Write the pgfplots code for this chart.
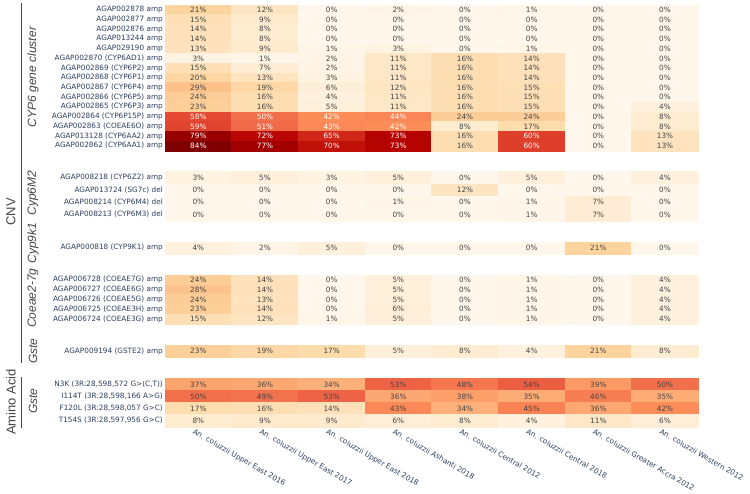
\documentclass[border=0pt]{standalone}
\usepackage{pgfplots}
\pgfplotsset{compat=1.18}
\usepackage{pgfplotstable}
\usepackage{fontspec}
\setmainfont{DejaVu Sans}
\newfontfamily\lib{Liberation Sans}
\definecolor{lab}{RGB}{42,63,95}
\definecolor{ctext}{RGB}{68,68,68}
\definecolor{grp}{RGB}{68,68,68}

\pgfdeclareplotmark{cellS}{\pgfpathrectangle{\pgfpoint{-33.6pt}{-4.95pt}}{\pgfpoint{67.2pt}{9.9pt}}\pgfusepathqfillstroke}
\pgfdeclareplotmark{cellT}{\pgfpathrectangle{\pgfpoint{-33.6pt}{-6.2pt}}{\pgfpoint{67.2pt}{12.4pt}}\pgfusepathqfillstroke}

% short rows (CYP6 cluster, Coeae2-7g)
\pgfplotstableread{
y c0 c1 c2 c3 c4 c5 c6 c7
9.86 21 12 0 2 0 1 0 0
19.57 15 9 0 0 0 0 0 0
29.28 14 8 0 0 0 0 0 0
38.99 14 8 0 0 0 0 0 0
48.70 13 9 1 3 0 1 0 0
58.41 3 1 2 11 16 14 0 0
68.12 15 7 2 11 16 14 0 0
77.83 20 13 3 11 16 14 0 0
87.54 29 19 6 12 16 15 0 0
97.25 24 16 4 11 16 15 0 0
106.96 23 16 5 11 16 15 0 4
116.67 58 50 42 44 24 24 0 8
126.38 59 51 43 42 8 17 0 8
136.09 79 72 65 73 16 60 0 13
145.80 84 77 70 73 16 60 0 13
279.9 24 14 0 5 0 1 0 4
289.7 28 14 0 5 0 1 0 4
299.5 24 13 0 5 0 1 0 4
309.3 23 14 0 6 0 1 0 4
319.1 15 12 1 5 0 1 0 4
}\cnvS

% tall rows (Cyp6M2, Cyp9k1, Gste)
\pgfplotstableread{
y c0 c1 c2 c3 c4 c5 c6 c7
177.8 3 5 3 5 0 5 0 4
190.1 0 0 0 0 12 0 0 0
202.3 0 0 0 1 0 1 7 0
214.6 0 0 0 0 0 1 7 0
247.85 4 2 5 0 0 0 21 0
351.2 23 19 17 5 8 4 21 8
}\cnvT

% amino acid rows
\pgfplotstableread{
y c0 c1 c2 c3 c4 c5 c6 c7
384.35 37 36 34 53 48 54 39 50
396.45 50 49 53 36 38 35 46 35
408.55 17 16 14 43 34 45 36 42
420.65 8 9 9 6 8 4 11 6
}\amino

\newcommand\cnvlabel{\pgfmathfloatparsenumber{\pgfplotspointmeta}\pgfmathfloattofixed{\pgfmathresult}\ifdim\pgfmathresult pt>40pt\color{white}\fi\pgfmathprintnumber[fixed,precision=0,assume math mode=true]{\pgfplotspointmeta}\%}
\newcommand\aalabel{\pgfmathprintnumber[fixed,precision=0,assume math mode=true]{\pgfplotspointmeta}\%}

\pgfplotsset{
  cell/.style={only marks, scatter, point meta=explicit,
    scatter/use mapped color={draw=mapped color,fill=mapped color,line width=0.3pt}},
  txt/.style={only marks, mark=none, point meta=explicit,
    every node near coord/.append style={anchor=center, inner sep=0pt,
      font=\fontsize{7.3}{8}\selectfont, text=ctext}},
}

\begin{document}
\begin{tikzpicture}
\path[use as bounding box] (0pt,0pt) rectangle (750pt,-493pt);
\begin{axis}[at={(165pt,-426.7pt)}, anchor=south west,
  scale only axis, width=533.33pt, height=421.7pt,
  xmin=-0.5, xmax=7.5, ymin=5, ymax=426.7, y dir=reverse,
  clip=false, axis line style={draw=none}, major tick length=0pt,
  colormap={orrd}{rgb255=(255,247,236) rgb255=(254,232,200) rgb255=(253,212,158) rgb255=(253,187,132) rgb255=(252,141,89) rgb255=(239,101,72) rgb255=(215,48,31) rgb255=(179,0,0) rgb255=(127,0,0)},
  point meta min=0, point meta max=84,
  xtick={0,...,7},
  xticklabels={An. coluzzii Upper East 2016, An. coluzzii Upper East 2017, An. coluzzii Upper East 2018, An. coluzzii Ashanti 2018, An. coluzzii Central 2012, An. coluzzii Central 2018, An. coluzzii Greater Accra 2012, An. coluzzii Western 2012},
  xticklabel style={rotate=-30, anchor=north west, inner sep=0pt, yshift=-3pt, xshift=-2pt, font=\fontsize{7.3}{8}\selectfont, text=lab},
  ytick={9.86,19.57,29.28,38.99,48.70,58.41,68.12,77.83,87.54,97.25,106.96,116.67,126.38,136.09,145.80,177.8,190.1,202.3,214.6,247.85,279.9,289.7,299.5,309.3,319.1,351.2,384.35,396.45,408.55,420.65},
  yticklabels={AGAP002878 amp, AGAP002877 amp, AGAP002876 amp, AGAP013244 amp, AGAP029190 amp,
    AGAP002870 (CYP6AD1) amp, AGAP002869 (CYP6P2) amp, AGAP002868 (CYP6P1) amp, AGAP002867 (CYP6P4) amp,
    AGAP002866 (CYP6P5) amp, AGAP002865 (CYP6P3) amp, AGAP002864 (CYP6P15P) amp, AGAP002863 (COEAE6O) amp,
    AGAP013128 (CYP6AA2) amp, AGAP002862 (CYP6AA1) amp,
    AGAP008218 (CYP6Z2) amp, AGAP013724 (SG7c) del, AGAP008214 (CYP6M4) del, AGAP008213 (CYP6M3) del,
    AGAP000818 (CYP9K1) amp,
    AGAP006728 (COEAE7G) amp, AGAP006727 (COEAE6G) amp, AGAP006726 (COEAE5G) amp, AGAP006725 (COEAE3H) amp, AGAP006724 (COEAE3G) amp,
    AGAP009194 (GSTE2) amp,
    {N3K (3R:28,598,572 G>(C,T))}, {I114T (3R:28,598,166 A>G)}, {F120L (3R:28,598,057 G>C)}, {T154S (3R:28,597,956 G>C)}},
  yticklabel style={anchor=east, inner sep=0pt, xshift=-2pt, font=\fontsize{7.3}{8}\selectfont, text=lab},
]
% cells
\pgfplotsinvokeforeach{0,...,7}{
  \addplot[cell, mark=cellS] table[x expr=#1, y=y, meta=c#1]{\cnvS};
  \addplot[cell, mark=cellT] table[x expr=#1, y=y, meta=c#1]{\cnvT};
  \addplot[cell, mark=cellT] table[x expr=#1, y=y, meta=c#1]{\amino};
}
% cell texts
\pgfplotsinvokeforeach{0,...,7}{
  \addplot[txt, nodes near coords={\cnvlabel}] table[x expr=#1, y=y, meta=c#1]{\cnvS};
  \addplot[txt, nodes near coords={\cnvlabel}] table[x expr=#1, y=y, meta=c#1]{\cnvT};
  \addplot[txt, nodes near coords={\aalabel}] table[x expr=#1, y=y, meta=c#1]{\amino};
}
\end{axis}
\draw[grp, line width=1pt] (21pt,-3pt) -- (21pt,-363pt);
\draw[grp, line width=1pt] (21pt,-377pt) -- (21pt,-428pt);
\node[rotate=90, font=\lib\fontsize{13}{14}\selectfont, text=grp] at (11pt,-212pt) {CNV};
\node[rotate=90, font=\lib\fontsize{13}{14}\selectfont, text=grp] at (11pt,-402pt) {Amino Acid};
\begin{scope}[every node/.style={rotate=90, font=\lib\itshape\fontsize{12}{13}\selectfont, text=grp}]
\node at (33pt,-77pt) {CYP6 gene cluster};
\node at (33pt,-193pt) {Cyp6M2};
\node at (33pt,-243pt) {Cyp9k1};
\node at (33pt,-298pt) {Coeae2-7g};
\node at (33pt,-351pt) {Gste};
\node at (33pt,-401pt) {Gste};
\end{scope}
\end{tikzpicture}
\end{document}
